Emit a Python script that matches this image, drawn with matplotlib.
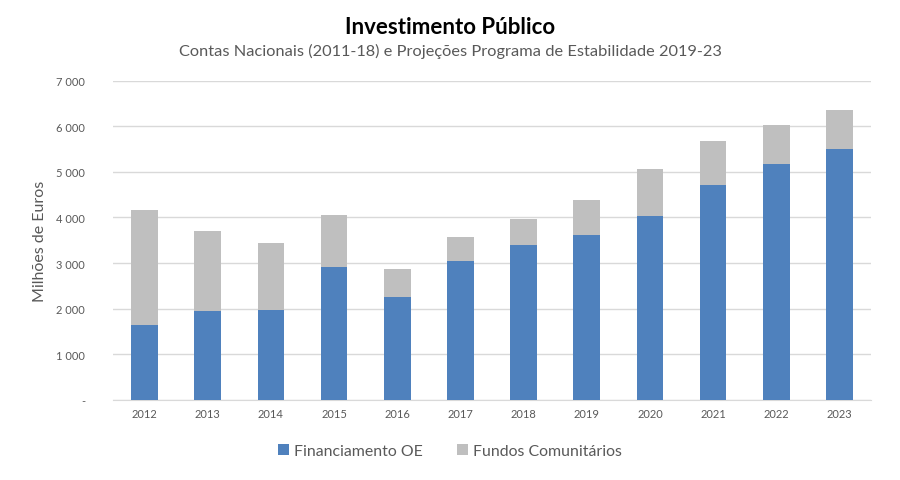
import matplotlib.pyplot as plt
from matplotlib.ticker import FuncFormatter

# data (Milhoes de Euros)
years = ["2012", "2013", "2014", "2015", "2016", "2017",
         "2018", "2019", "2020", "2021", "2022", "2023"]
financiamento_oe = [1645, 1945, 1975, 2910, 2265, 3055,
                    3385, 3610, 4025, 4700, 5165, 5495]
total = [4165, 3700, 3450, 4050, 2880, 3575,
         3975, 4390, 5065, 5685, 6030, 6350]
fundos_comunitarios = [t - f for t, f in zip(total, financiamento_oe)]

plt.rcParams["font.family"] = ["Lato", "DejaVu Sans"]

blue = "#4f81bd"
grey = "#bfbfbf"
text_grey = "#595959"

fig = plt.figure(figsize=(9, 4.81), dpi=100)
ax = fig.add_axes([113 / 900, 1 - 401 / 481, 758 / 900, 319.5 / 481])

x = list(range(len(years)))
ax.bar(x, financiamento_oe, width=0.42, color=blue, label="Financiamento OE", zorder=3)
ax.bar(x, fundos_comunitarios, width=0.42, bottom=financiamento_oe, color=grey,
       label="Fundos Comunitários", zorder=3)

ax.set_xlim(-0.5, len(years) - 0.5)
ax.set_ylim(0, 7000)
ax.set_yticks(range(0, 7001, 1000))
ax.yaxis.set_major_formatter(
    FuncFormatter(lambda v, p: "-" if v == 0 else "{:,.0f}".format(v).replace(",", " "))
)
ax.set_xticks(x)
ax.set_xticklabels(years)
ax.tick_params(axis="both", length=0, labelsize=8, colors=text_grey)
ax.tick_params(axis="y", pad=20)
ax.tick_params(axis="x", pad=6)
ax.grid(axis="y", color="#d9d9d9", linewidth=1, zorder=0)

for side in ["top", "right", "left"]:
    ax.spines[side].set_visible(False)
ax.spines["bottom"].set_color("#d9d9d9")

ax.set_ylabel("Milhões de Euros", fontsize=11.5, color=text_grey, labelpad=7)

fig.text(0.5, 1 - 27 / 481, "Investimento Público", ha="center", va="center",
         fontsize=16, fontweight="bold", color="black")
fig.text(0.5, 1 - 51 / 481,
         "Contas Nacionais (2011-18) e Projeções Programa de Estabilidade 2019-23",
         ha="center", va="center", fontsize=11.8, color=text_grey)

fig.legend(loc="center", bbox_to_anchor=(0.5, 1 - 452 / 481), ncol=2, frameon=False,
           fontsize=11.4, handlelength=0.7, handleheight=0.7, handletextpad=0.3,
           columnspacing=2.2, labelcolor=text_grey)

fig.savefig("out.png", dpi=100)
